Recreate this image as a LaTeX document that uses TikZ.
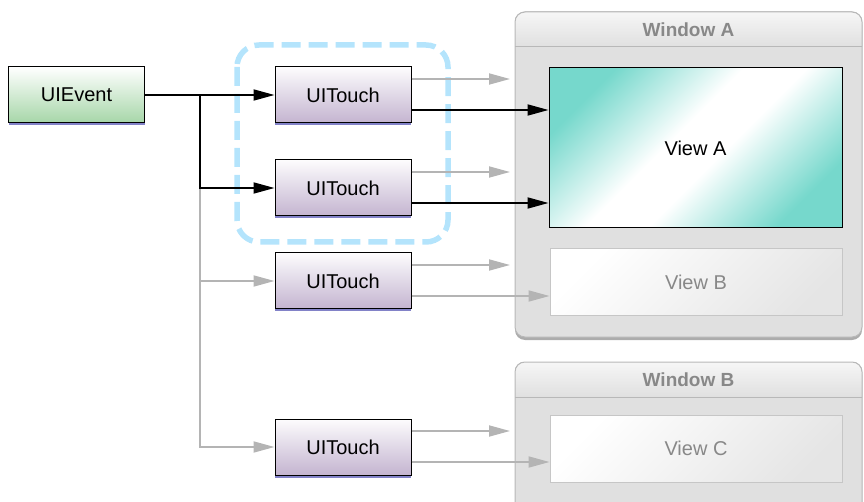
\documentclass[tikz,border=0pt]{standalone}
\usepackage{fontspec}
\setmainfont{Liberation Sans}
\usetikzlibrary{arrows.meta,shadows}
\definecolor{evgreen}{RGB}{166,214,168}
\definecolor{tpurple}{RGB}{196,180,208}
\definecolor{tshadow}{RGB}{130,130,200}
\definecolor{hilite}{RGB}{180,228,252}
\definecolor{wingray}{RGB}{224,224,224}
\definecolor{winline}{RGB}{184,184,184}
\definecolor{missgray}{RGB}{180,180,180}
\definecolor{viewteal}{RGB}{118,216,204}
\definecolor{textgray}{RGB}{136,136,136}
\pgfdeclareverticalshading{viewshade}{100bp}{color(0bp)=(viewteal); color(25bp)=(viewteal);
  color(45bp)=(white); color(55bp)=(white); color(75bp)=(viewteal); color(100bp)=(viewteal)}
\tikzset{
  objbox/.style={draw=black, line width=1pt, inner sep=0pt,
    minimum width=136pt, minimum height=56pt,
    drop shadow={shadow xshift=0pt, shadow yshift=-2.5pt, fill=tshadow, opacity=1}},
  eventbox/.style={objbox, top color=white, bottom color=evgreen},
  touchbox/.style={objbox, top color=white!96!tpurple, bottom color=tpurple},
  hit/.style={draw=black, line width=1.8pt, -{Triangle[length=21pt,width=11pt]}},
  miss/.style={draw=missgray, line width=1.8pt, -{Triangle[length=21pt,width=11pt]}}
}
\begin{document}
\begin{tikzpicture}[x=1pt, y=-1pt, font=\fontsize{20}{24}\selectfont,
    window/.style={fill=wingray, draw=winline, line width=1pt, rounded corners=10pt},
    wintitle/.style={font=\bfseries\fontsize{19}{23}\selectfont, text=textgray},
    viewA/.style={draw=black, line width=1pt, inner sep=0pt, minimum width=293pt,
      minimum height=160pt, shading=viewshade, shading angle=45},
    viewBC/.style={draw=gray!45, line width=1pt, inner sep=0pt, minimum width=292pt,
      minimum height=67pt, left color=white, right color=gray!20,
      shading angle=45, text=textgray},
    highlight/.style={draw=hilite, line width=5.5pt, rounded corners=22pt,
      dash pattern=on 19pt off 8pt}]
  \useasboundingbox (0,0) rectangle (864,502);

  \begin{scope}
    \clip (0,0) rectangle (864,502);
    \foreach \wt/\wb/\wn in {12/337/A, 362/540/B} {
      \fill[rounded corners=10pt, gray!65] (515,\wt+3) rectangle (862,\wb+3);
      \draw[window] (515,\wt) rectangle (862,\wb);
      \begin{scope}
        \clip (515,\wt) rectangle (862,\wt+35);
        \shade[rounded corners=10pt, top color=gray!7, bottom color=gray!32,
          draw=winline, line width=1pt] (515,\wt) rectangle (862,\wt+50);
      \end{scope}
      \draw[winline, line width=1pt] (515,\wt+35) -- (862,\wt+35);
      \node[wintitle] (title\wn) at (688.5,\wt+18) {Window \wn};
    }
  \end{scope}

  \node[viewA] (va) at (695.5,148) {View A};
  \node[viewBC] (vb) at (696,282.5) {View B};
  \node[viewBC] (vc) at (696,448.5) {View C};

  \draw[highlight] (237,45) rectangle (448,242);

  \node[eventbox] (ev) at (76.5,95) {UIEvent};
  \foreach \i/\y in {1/95,2/188,3/281,4/447}
    \node[touchbox] (t\i) at (343,\y) {UITouch};

  \coordinate (j) at (200,95);
  \coordinate (edgeA) at (510,0);
  \draw[miss] (j |- t2) |- (t4);
  \draw[miss] (j |- t3) -- (t3);
  \draw[hit] (ev) -- (t1);
  \draw[hit] (j) |- (t2);

  \foreach \i/\v/\s in {1/va/hit, 2/va/hit, 3/vb/miss, 4/vc/miss} {
    \coordinate (u\i) at ([yshift=16pt]t\i.east);
    \coordinate (l\i) at ([yshift=-15pt]t\i.east);
    \draw[miss] (u\i) -- (u\i -| edgeA);
    \draw[\s] (l\i) -- (l\i -| \v.west);
  }
\end{tikzpicture}
\end{document}
